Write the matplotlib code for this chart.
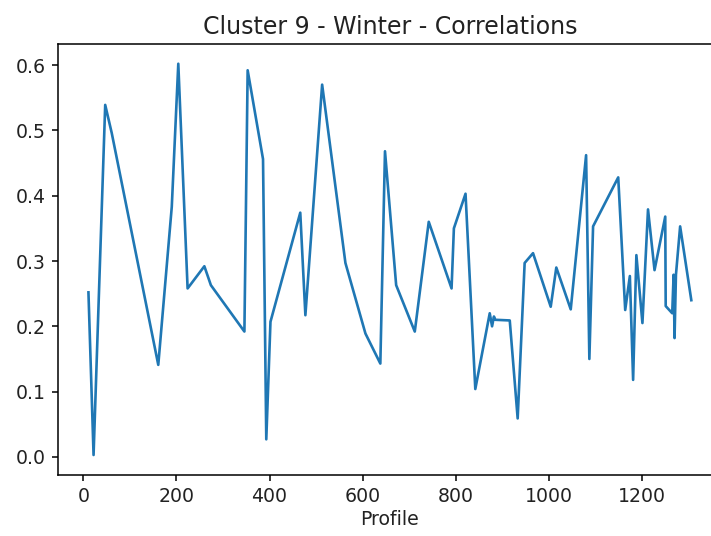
import matplotlib
matplotlib.use('Agg')
import matplotlib.pyplot as plt

# Profile numbers and correlation values
profile = [11, 22, 47, 61, 161, 190, 204, 224, 260, 274, 346, 353, 386, 393,
           402, 466, 477, 513, 563, 606, 638, 648, 672, 712, 742, 791, 796,
           821, 842, 873, 878, 882, 885, 916, 933, 948, 966, 1004, 1016, 1047,
           1080, 1087, 1095, 1149, 1164, 1174, 1181, 1188, 1201, 1213, 1227,
           1250, 1251, 1265, 1268, 1270, 1273, 1282, 1306]
correlation = [0.252, 0.003, 0.539, 0.496, 0.141, 0.383, 0.602, 0.258, 0.292,
               0.263, 0.192, 0.592, 0.456, 0.027, 0.207, 0.374, 0.217, 0.570,
               0.297, 0.189, 0.143, 0.468, 0.263, 0.192, 0.360, 0.258, 0.350,
               0.403, 0.104, 0.220, 0.200, 0.215, 0.210, 0.209, 0.059, 0.297,
               0.312, 0.230, 0.290, 0.226, 0.462, 0.150, 0.353, 0.428, 0.225,
               0.277, 0.118, 0.309, 0.205, 0.379, 0.286, 0.368, 0.231, 0.220,
               0.279, 0.182, 0.279, 0.353, 0.240]

plt.rcParams['font.family'] = 'DejaVu Sans'

fig = plt.figure(figsize=(7.11, 5.36), dpi=100)
# axes run past the right edge of the picture, as in the original crop
ax = fig.add_axes([0.082, 0.1146, 0.9327, 0.803])

ax.plot(profile, correlation, color='#1f77b4', linewidth=1.9)

ax.set_title('Cluster 9 - Winter - Correlations', fontsize=17, pad=7.5,
             color='#222222')
ax.set_xlabel('Profile', fontsize=13.6, labelpad=3, color='#222222')
ax.set_xticks([0, 200, 400, 600, 800, 1000, 1200])
ax.set_yticks([0.0, 0.1, 0.2, 0.3, 0.4, 0.5, 0.6])
ax.tick_params(labelsize=13.6, length=4.3, width=1.1, pad=4.5,
               labelcolor='#222222')
for sp in ax.spines.values():
    sp.set_linewidth(1.1)
ax.spines['right'].set_visible(False)

fig.savefig('out.png', dpi=100)
